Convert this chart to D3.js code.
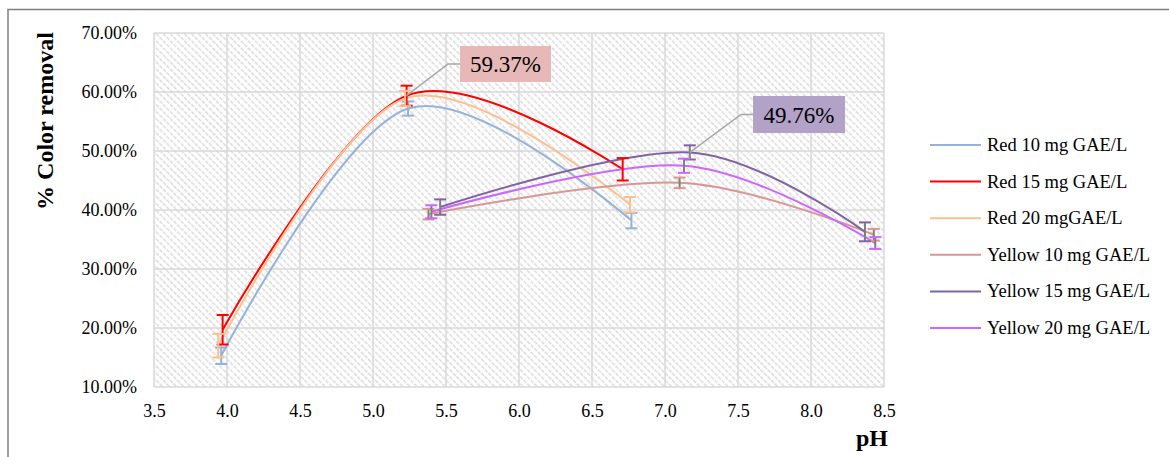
<!DOCTYPE html>
<html>
  <head>
    <meta charset="utf-8">
    <script src="https://d3js.org/d3.v7.min.js"></script>
    <title>Color removal vs pH</title>
    <style type="text/css">
      body { margin: 0; background: #fff; }
      svg { display: block; }
      svg text { font-family: "Liberation Serif", "Times New Roman", serif; fill: #000; }
      .grid line { stroke: #d9d9d9; stroke-width: 1.5; }
    </style>
  </head>
  <body>
    <div id="chart"></div>
    <script type="text/javascript">
      // series names and colours
      var seriesNames = ["Red 10 mg GAE/L", "Red 15 mg GAE/L", "Red 20 mgGAE/L",
                         "Yellow 10 mg GAE/L", "Yellow 15 mg GAE/L", "Yellow 20 mg GAE/L"];
      var seriesColors = ["#95b3d7", "#ff0000", "#fac090", "#d99694", "#8064a2", "#cc66ff"];

      // pH of each point (x), % removal (y) and error (+/-)
      var red10X = [3.96, 5.24, 6.77], red10Y = [15.3, 57.2, 38.2], red10E = [1.4, 1.2, 1.3];
      var red15X = [3.97, 5.23, 6.71], red15Y = [19.7, 59.37, 46.9], red15E = [2.5, 1.7, 1.9];
      var red20X = [3.94, 5.22, 6.76], red20Y = [17.0, 58.9, 40.9], red20E = [2.0, 1.3, 1.3];
      var yel10X = [5.38, 7.10, 8.43], yel10Y = [39.3, 44.6, 35.8], yel10E = [0.9, 0.9, 1.0];
      var yel15X = [5.46, 7.17, 8.37], yel15Y = [40.5, 49.76, 36.3], yel15E = [1.3, 1.2, 1.6];
      var yel20X = [5.40, 7.13, 8.44], yel20Y = [39.7, 47.5, 34.4], yel20E = [1.1, 1.2, 1.0];

      var xTicks = [3.5, 4.0, 4.5, 5.0, 5.5, 6.0, 6.5, 7.0, 7.5, 8.0, 8.5];
      var yTicks = [10, 20, 30, 40, 50, 60, 70];

      // labelled maxima: series index, point index, label
      var callouts = [
        {s: 1, i: 1, text: "59.37%", fill: "#e6b9b8", bx: 460, by: 46, bw: 91, bh: 36},
        {s: 4, i: 1, text: "49.76%", fill: "#b3a2c7", bx: 753, by: 96, bw: 92, bh: 37}
      ];

      var allX = [red10X, red15X, red20X, yel10X, yel15X, yel20X],
          allY = [red10Y, red15Y, red20Y, yel10Y, yel15Y, yel20Y],
          allE = [red10E, red15E, red20E, yel10E, yel15E, yel20E];

      var series = seriesNames.map(function(name, s) {
        return {
          name: name,
          color: seriesColors[s],
          yellow: s >= 3,
          points: allX[s].map(function(x, i) { return {x: x, y: allY[s][i], e: allE[s][i]}; })
        };
      });

      var width = 1169, height = 457,
          plotLeft = 154, plotRight = 884, plotTop = 33, plotBottom = 387,
          serif = "'Liberation Serif', 'Times New Roman', serif";

      var x = d3.scaleLinear().domain([3.5, 8.5]).range([plotLeft, plotRight]),
          y = d3.scaleLinear().domain([10, 70]).range([plotBottom, plotTop]);

      var svg = d3.select("#chart").append("svg")
        .attr("width", width)
        .attr("height", height);

      // hatch fill of the plot area
      var defs = svg.append("defs");
      var pat = defs.append("pattern")
        .attr("id", "hatch")
        .attr("patternUnits", "userSpaceOnUse")
        .attr("width", 5)
        .attr("height", 5)
        .attr("patternTransform", "rotate(-45)");
      pat.append("rect").attr("width", 5).attr("height", 5).attr("fill", "#fff");
      pat.append("line")
        .attr("x1", 1.5).attr("y1", 0).attr("x2", 1.5).attr("y2", 5)
        .attr("stroke", "#d9d9d9")
        .attr("stroke-width", 1.5)
        .attr("stroke-dasharray", "3,1");

      // outer frame (top and left only visible)
      svg.append("path")
        .attr("d", "M8,457V9.5H1169")
        .attr("fill", "none")
        .attr("stroke", "#7f7f7f")
        .attr("stroke-width", 1.5);

      svg.append("rect")
        .attr("x", plotLeft).attr("y", plotTop)
        .attr("width", plotRight - plotLeft).attr("height", plotBottom - plotTop)
        .attr("fill", "url(#hatch)");

      // gridlines
      var grid = svg.append("g").attr("class", "grid");
      grid.selectAll(".gx").data(xTicks).enter().append("line")
        .attr("x1", function(d) { return x(d); }).attr("x2", function(d) { return x(d); })
        .attr("y1", plotTop).attr("y2", plotBottom);
      grid.selectAll(".gy").data(yTicks).enter().append("line")
        .attr("x1", plotLeft).attr("x2", plotRight)
        .attr("y1", function(d) { return y(d); }).attr("y2", function(d) { return y(d); });

      // axes (labels only)
      var xAxis = svg.append("g")
        .attr("transform", "translate(0," + plotBottom + ")")
        .call(d3.axisBottom(x).tickValues(xTicks).tickFormat(d3.format(".1f")).tickSize(0).tickPadding(17));
      xAxis.select(".domain").remove();

      var yAxis = svg.append("g")
        .attr("transform", "translate(" + plotLeft + ",0)")
        .call(d3.axisLeft(y).tickValues(yTicks).tickFormat(function(d) { return d3.format(".2f")(d) + "%"; }).tickSize(0).tickPadding(17));
      yAxis.select(".domain").remove();

      [xAxis, yAxis].forEach(function(ax) {
        ax.attr("font-family", serif).attr("font-size", 18);
        ax.selectAll("text").style("font-family", serif).style("font-size", "18px").attr("fill", "#000");
      });

      // axis titles
      svg.append("text")
        .attr("transform", "translate(53,121) rotate(-90)")
        .attr("text-anchor", "middle")
        .style("font-family", serif)
        .attr("font-size", "24px")
        .attr("font-weight", "bold")
        .text("% Color removal");

      svg.append("text")
        .attr("x", 872).attr("y", 446)
        .attr("text-anchor", "middle")
        .style("font-family", serif)
        .attr("font-size", "24px")
        .attr("font-weight", "bold")
        .text("pH");

      // smoothed lines
      var line = d3.line()
        .x(function(d) { return x(d.x); })
        .y(function(d) { return y(d.y); })
        .curve(d3.curveCardinal.tension(0));

      svg.append("g").selectAll("path")
        .data(series)
        .enter().append("path")
          .attr("d", function(d) { return line(d.points); })
          .attr("fill", "none")
          .attr("stroke", function(d) { return d.color; })
          .attr("stroke-width", 2);

      // error bars
      var capW = 6;
      var bars = svg.append("g").selectAll("g")
        .data(series)
        .enter().append("g");

      bars.each(function(sd) {
        var g = d3.select(this);
        sd.points.forEach(function(p) {
          var cx = x(p.x), y0 = y(p.y + p.e), y1 = y(p.y - p.e);
          g.append("line")
            .attr("x1", cx).attr("x2", cx).attr("y1", y0).attr("y2", y1)
            .attr("stroke", sd.yellow ? "#7f7f7f" : sd.color)
            .attr("stroke-width", 2);
          [y0, y1].forEach(function(cy) {
            g.append("line")
              .attr("x1", cx - capW).attr("x2", cx + capW).attr("y1", cy).attr("y2", cy)
              .attr("stroke", sd.color)
              .attr("stroke-width", 2);
          });
        });
      });

      // callouts
      callouts.forEach(function(c) {
        var p = series[c.s].points[c.i],
            px = x(p.x), py = y(p.y),
            ly = c.by + c.bh / 2;
        svg.append("path")
          .attr("d", "M" + px + "," + py + "L" + (c.bx - 12) + "," + ly + "H" + c.bx)
          .attr("fill", "none")
          .attr("stroke", "#a6a6a6")
          .attr("stroke-width", 1.5);
        svg.append("rect")
          .attr("x", c.bx).attr("y", c.by)
          .attr("width", c.bw).attr("height", c.bh)
          .attr("fill", c.fill);
        svg.append("text")
          .attr("x", c.bx + c.bw / 2).attr("y", c.by + c.bh / 2 + 8)
          .attr("text-anchor", "middle")
          .style("font-family", serif)
          .attr("font-size", "23px")
          .text(c.text);
      });

      // legend
      var legend = svg.append("g").selectAll("g")
        .data(series)
        .enter().append("g")
          .attr("transform", function(d, i) { return "translate(930," + (145 + i * 36.6) + ")"; });
      legend.append("line")
        .attr("x1", 0).attr("x2", 51)
        .attr("stroke", function(d) { return d.color; })
        .attr("stroke-width", 2);
      legend.append("text")
        .attr("x", 57).attr("y", 6)
        .style("font-family", serif)
        .attr("font-size", "18.5px")
        .text(function(d) { return d.name; });
    </script>
  </body>
</html>
